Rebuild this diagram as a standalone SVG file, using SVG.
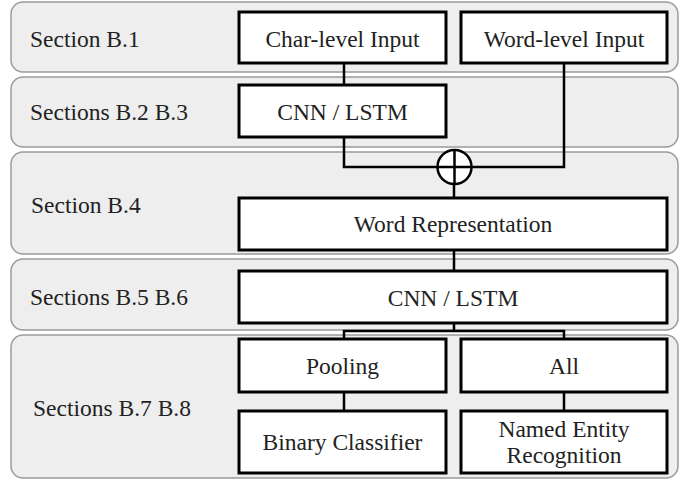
<svg xmlns="http://www.w3.org/2000/svg" width="694" height="480" viewBox="0 0 694 480">
<style>
.band{fill:#eeeeee;stroke:#9a9a9a;stroke-width:1.5}
.box{fill:#ffffff;stroke:#000;stroke-width:3}
.t{font-family:"Liberation Serif",serif;font-size:23.5px;fill:#222}
.c{text-anchor:middle}
.con{fill:none;stroke:#000;stroke-width:2.5}
</style>
<rect width="694" height="480" fill="#fff"/>
<g id="bands">
<g id="band1"><rect class="band" x="11" y="2" width="667" height="70" rx="12"/><text class="t" x="30" y="47">Section B.1</text></g>
<g id="band2"><rect class="band" x="11" y="77" width="667" height="70" rx="12"/><text class="t" x="30" y="120">Sections B.2 B.3</text></g>
<g id="band3"><rect class="band" x="11" y="152" width="667" height="102" rx="12"/><text class="t" x="31" y="213">Section B.4</text></g>
<g id="band4"><rect class="band" x="11" y="259" width="667" height="71" rx="12"/><text class="t" x="30" y="305">Sections B.5 B.6</text></g>
<g id="band5"><rect class="band" x="11" y="335" width="667" height="143" rx="12"/><text class="t" x="33" y="416">Sections B.7 B.8</text></g>
</g>
<g id="connectors">
<path class="con" d="M344 63V85"/>
<path class="con" d="M344 137V167H437"/>
<path class="con" d="M564 63V167H472"/>
<path class="con" d="M454 184V198"/>
<path class="con" d="M454 250V271"/>
<path class="con" d="M454 323V331"/>
<path class="con" d="M344 339V331H564V339"/>
<path class="con" d="M344 392V411"/>
<path class="con" d="M564 392V411"/>
</g>
<g id="concat"><circle cx="454.5" cy="167" r="17" fill="#fff" stroke="#000" stroke-width="2.5"/><path class="con" d="M437.5 167H471.5M454.5 150V184"/></g>
<g id="char"><rect class="box" x="239" y="12" width="207" height="51"/><text class="t c" x="342.5" y="47">Char-level Input</text></g>
<g id="word"><rect class="box" x="461" y="12" width="206" height="51"/><text class="t c" x="564" y="47">Word-level Input</text></g>
<g id="cnn1"><rect class="box" x="239" y="85" width="207" height="52"/><text class="t c" x="342.5" y="120">CNN / LSTM</text></g>
<g id="wordrep"><rect class="box" x="239" y="198" width="428" height="52"/><text class="t c" x="453" y="232">Word Representation</text></g>
<g id="cnn2"><rect class="box" x="239" y="271" width="428" height="52"/><text class="t c" x="453" y="306">CNN / LSTM</text></g>
<g id="pool"><rect class="box" x="239" y="339" width="207" height="53"/><text class="t c" x="342.5" y="374">Pooling</text></g>
<g id="all"><rect class="box" x="461" y="339" width="206" height="53"/><text class="t c" x="564" y="374">All</text></g>
<g id="bin"><rect class="box" x="239" y="411" width="207" height="62"/><text class="t c" x="342.5" y="450">Binary Classifier</text></g>
<g id="ner"><rect class="box" x="461" y="411" width="206" height="62"/><text class="t c" x="564" y="437">Named Entity</text><text class="t c" x="564" y="463">Recognition</text></g>
</svg>
